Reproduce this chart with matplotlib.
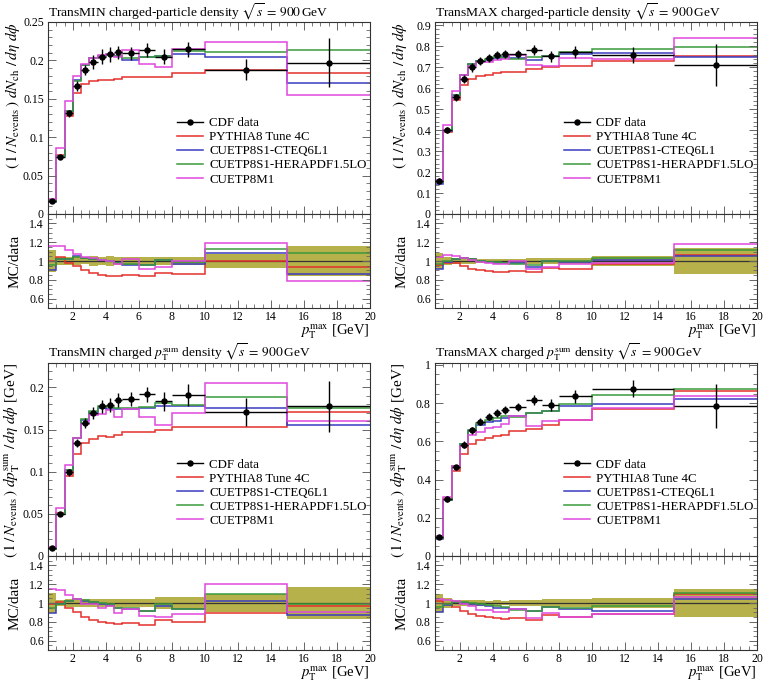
import numpy as np
import matplotlib
matplotlib.use('Agg')
import matplotlib.pyplot as plt
from matplotlib.ticker import MultipleLocator, FuncFormatter
from matplotlib.lines import Line2D

plt.rcParams['font.family'] = ['Liberation Serif', 'DejaVu Serif']
plt.rcParams['mathtext.fontset'] = 'stix'

# ---------------- data ----------------
edges = [0.5, 1, 1.5, 2, 2.5, 3, 3.5, 4, 4.5, 5, 6, 7, 8, 10, 15, 20]
xticks = [2, 4, 6, 8, 10, 12, 14, 16, 18, 20]
labels = ["CDF data", "PYTHIA8 Tune 4C", "CUETP8S1-CTEQ6L1",
          "CUETP8S1-HERAPDF1.5LO", "CUETP8M1"]

# TransMIN charged-particle density
min_nch_data = [0.017, 0.074, 0.131, 0.1667, 0.1874, 0.1978, 0.2048, 0.2078, 0.2104, 0.209, 0.2134, 0.2048, 0.2143, 0.188, 0.197]
min_nch_err = [0.0019, 0.003, 0.005, 0.007, 0.0065, 0.0095, 0.0095, 0.01, 0.009, 0.009, 0.0087, 0.0097, 0.0097, 0.014, 0.032]
min_nch_p8 = [0.017, 0.077, 0.128, 0.157, 0.169, 0.173, 0.175, 0.175, 0.176, 0.178, 0.179, 0.179, 0.184, 0.188, 0.184]
min_nch_cteq = [0.0153, 0.0759, 0.1343, 0.175, 0.194, 0.2027, 0.2062, 0.207, 0.2051, 0.2006, 0.2049, 0.2062, 0.2083, 0.2045, 0.170]
min_nch_hera = [0.0163, 0.0753, 0.1343, 0.1734, 0.194, 0.2027, 0.2062, 0.2078, 0.2062, 0.2027, 0.2049, 0.2062, 0.2122, 0.2112, 0.2135]
min_nch_m1 = [0.0197, 0.0857, 0.1467, 0.1795, 0.1949, 0.2037, 0.2068, 0.2078, 0.2041, 0.2132, 0.1955, 0.1919, 0.2143, 0.2237, 0.1548]

# TransMAX charged-particle density
max_nch_data = [0.158, 0.40, 0.556, 0.645, 0.70, 0.73, 0.745, 0.757, 0.763, 0.763, 0.782, 0.752, 0.772, 0.758, 0.71]
max_nch_err = [0.013, 0.016, 0.017, 0.019, 0.021, 0.018, 0.019, 0.019, 0.019, 0.019, 0.023, 0.026, 0.027, 0.038, 0.10]
max_nch_p8 = [0.152, 0.392, 0.545, 0.613, 0.644, 0.657, 0.663, 0.670, 0.675, 0.679, 0.692, 0.699, 0.706, 0.731, 0.753]
max_nch_cteq = [0.145, 0.396, 0.567, 0.664, 0.714, 0.73, 0.734, 0.742, 0.748, 0.744, 0.735, 0.752, 0.764, 0.769, 0.746]
max_nch_hera = [0.153, 0.40, 0.567, 0.664, 0.714, 0.73, 0.738, 0.746, 0.744, 0.740, 0.747, 0.752, 0.772, 0.785, 0.795]
max_nch_m1 = [0.164, 0.424, 0.584, 0.664, 0.707, 0.723, 0.726, 0.734, 0.740, 0.759, 0.712, 0.707, 0.745, 0.739, 0.838]

# TransMIN charged pTsum density
min_pt_data = [0.0091, 0.050, 0.0995, 0.134, 0.1576, 0.1695, 0.1774, 0.1794, 0.185, 0.1861, 0.192, 0.1834, 0.191, 0.171, 0.1775]
min_pt_err = [0.001, 0.0015, 0.004, 0.005, 0.006, 0.007, 0.008, 0.008, 0.008, 0.008, 0.009, 0.011, 0.013, 0.017, 0.030]
min_pt_p8 = [0.0090, 0.0505, 0.0945, 0.1206, 0.134, 0.139, 0.1419, 0.1408, 0.1434, 0.147, 0.1475, 0.1495, 0.1528, 0.1532, 0.1711]
min_pt_cteq = [0.0081, 0.0495, 0.1015, 0.1402, 0.1608, 0.1712, 0.1756, 0.1749, 0.175, 0.1749, 0.1755, 0.1779, 0.178, 0.1753, 0.1553]
min_pt_hera = [0.0086, 0.0495, 0.1015, 0.1402, 0.1623, 0.1719, 0.1774, 0.1769, 0.1758, 0.1755, 0.1766, 0.1821, 0.1788, 0.1881, 0.176]
min_pt_m1 = [0.0105, 0.0568, 0.1075, 0.1398, 0.1565, 0.1671, 0.1685, 0.1729, 0.1652, 0.1749, 0.1645, 0.1559, 0.1692, 0.2052, 0.1598]

# TransMAX charged pTsum density
max_pt_data = [0.099, 0.299, 0.464, 0.583, 0.659, 0.703, 0.729, 0.748, 0.765, 0.781, 0.816, 0.791, 0.835, 0.876, 0.786]
max_pt_err = [0.010, 0.015, 0.014, 0.017, 0.018, 0.020, 0.018, 0.020, 0.020, 0.022, 0.024, 0.030, 0.036, 0.045, 0.115]
max_pt_p8 = [0.101, 0.296, 0.444, 0.536, 0.584, 0.607, 0.620, 0.628, 0.635, 0.653, 0.667, 0.687, 0.710, 0.770, 0.865]
max_pt_cteq = [0.089, 0.292, 0.469, 0.585, 0.654, 0.685, 0.703, 0.708, 0.721, 0.734, 0.746, 0.757, 0.785, 0.797, 0.821]
max_pt_hera = [0.095, 0.295, 0.469, 0.587, 0.659, 0.696, 0.711, 0.721, 0.732, 0.726, 0.746, 0.757, 0.793, 0.844, 0.873]
max_pt_m1 = [0.103, 0.310, 0.473, 0.575, 0.635, 0.647, 0.671, 0.676, 0.692, 0.734, 0.682, 0.706, 0.710, 0.776, 0.838]

# ---------------- style ----------------
colors = ['#e3302c', '#3a3cc0', '#3a9a3a', '#df48df']
band_color = '#b7b14c'
tick_color = '#666666'

W, H = 770, 686
fig = plt.figure(figsize=(W / 100, H / 100), dpi=100)


def rect(l, t, w, h):
    return [l / W, 1 - (t + h) / H, w / W, h / H]


fmt = FuncFormatter(lambda v, p: '%g' % round(v, 4))

nch_ylabel = r'$(\,1\,/\,N_{\mathrm{events}}\,)\ dN_{\mathrm{ch}}\ /\,d\eta\ d\phi$'
pt_ylabel = r'$(\,1\,/\,N_{\mathrm{events}}\,)\ dp_{\mathrm{T}}^{\mathrm{sum}}\ /\,d\eta\ d\phi$ [GeV]'

panels = [
    dict(title=r'TransMIN charged-particle density $\sqrt{s}\,=\,900\,$GeV',
         ylabel=nch_ylabel, data=min_nch_data, err=min_nch_err,
         mcs=[min_nch_p8, min_nch_cteq, min_nch_hera, min_nch_m1],
         ylim=(0, 0.25), major=0.05, minor=0.01, left=48, top=22, mh=192),
    dict(title=r'TransMAX charged-particle density $\sqrt{s}\,=\,900\,$GeV',
         ylabel=nch_ylabel, data=max_nch_data, err=max_nch_err,
         mcs=[max_nch_p8, max_nch_cteq, max_nch_hera, max_nch_m1],
         ylim=(0, 0.915), major=0.1, minor=0.02, left=435, top=22, mh=192),
    dict(title=r'TransMIN charged $p_{\mathrm{T}}^{\mathrm{sum}}$ density $\sqrt{s}\,=\,900\,$GeV',
         ylabel=pt_ylabel, data=min_pt_data, err=min_pt_err,
         mcs=[min_pt_p8, min_pt_cteq, min_pt_hera, min_pt_m1],
         ylim=(0, 0.229), major=0.05, minor=0.01, left=48, top=363, mh=193),
    dict(title=r'TransMAX charged $p_{\mathrm{T}}^{\mathrm{sum}}$ density $\sqrt{s}\,=\,900\,$GeV',
         ylabel=pt_ylabel, data=max_pt_data, err=max_pt_err,
         mcs=[max_pt_p8, max_pt_cteq, max_pt_hera, max_pt_m1],
         ylim=(0, 1.01), major=0.2, minor=0.05, left=435, top=363, mh=193),
]

edges_a = np.asarray(edges)
centers = 0.5 * (edges_a[1:] + edges_a[:-1])
halfw = 0.5 * (edges_a[1:] - edges_a[:-1])


def style_axis(ax):
    ax.tick_params(which='both', direction='in', top=True, right=True,
                   color=tick_color, labelsize=8.5, pad=3)
    ax.tick_params(which='major', length=6, width=0.7)
    ax.tick_params(which='minor', length=3, width=0.6)
    for s in ax.spines.values():
        s.set_linewidth(0.8)
        s.set_color('#333333')


for p in panels:
    pw = 322
    rh = 94
    axm = fig.add_axes(rect(p['left'], p['top'], pw, p['mh']))
    axr = fig.add_axes(rect(p['left'], p['top'] + p['mh'], pw, rh), sharex=axm)
    data = np.asarray(p['data'])
    err = np.asarray(p['err'])

    # main panel
    for mc, c in zip(p['mcs'], colors):
        axm.stairs(mc, edges, baseline=None, color=c, lw=1.1)
    axm.errorbar(centers, data, xerr=halfw, yerr=err, fmt='o', color='black',
                 ms=3.6, lw=1.0, capsize=0, zorder=5)
    axm.set_xlim(edges[0], edges[-1])
    axm.set_ylim(*p['ylim'])
    axm.yaxis.set_major_locator(MultipleLocator(p['major']))
    axm.yaxis.set_minor_locator(MultipleLocator(p['minor']))
    axm.yaxis.set_major_formatter(fmt)
    axm.xaxis.set_major_locator(plt.FixedLocator(xticks))
    axm.xaxis.set_minor_locator(MultipleLocator(0.5))
    style_axis(axm)
    axm.tick_params(axis='x', labelbottom=False)
    axm.set_ylabel(p['ylabel'], loc='top', fontsize=11)
    axm.yaxis.set_label_coords(-0.082, 1.0)
    axm.set_title(p['title'], loc='left', fontsize=9.7, pad=3)

    handles = [Line2D([], [], color='black', marker='o', ms=3.6, lw=1.0)]
    handles += [Line2D([], [], color=c, lw=1.1) for c in colors]
    axm.legend(handles, labels, loc='upper left', bbox_to_anchor=(0.402, 0.505),
               frameon=False, fontsize=9.3, handlelength=1.95, handletextpad=0.5,
               labelspacing=0.16, borderpad=0, borderaxespad=0)

    # ratio panel
    rel = err / data
    axr.stairs(1 + rel, edges, baseline=1 - rel, fill=True, color=band_color, lw=0)
    axr.stairs(np.ones_like(data), edges, baseline=None, color='#333333', lw=0.9)
    for mc, c in zip(p['mcs'], colors):
        axr.stairs(np.asarray(mc) / data, edges, baseline=None, color=c, lw=1.1)
    axr.set_ylim(0.5, 1.5)
    axr.set_xlim(edges[0], edges[-1])
    axr.yaxis.set_major_locator(MultipleLocator(0.2))
    axr.yaxis.set_minor_locator(MultipleLocator(0.05))
    axr.yaxis.set_major_formatter(fmt)
    axr.xaxis.set_major_formatter(fmt)
    style_axis(axr)
    axr.tick_params(axis='x', pad=2)
    axr.set_ylabel('MC/data', fontsize=11)
    axr.yaxis.set_label_coords(-0.082, 0.5)
    axr.set_xlabel(r'$p_{\mathrm{T}}^{\mathrm{max}}$ [GeV]', loc='right', fontsize=10.5)
    axr.xaxis.set_label_coords(1.0, -14.5 / rh)

fig.savefig('out.png', dpi=100)
